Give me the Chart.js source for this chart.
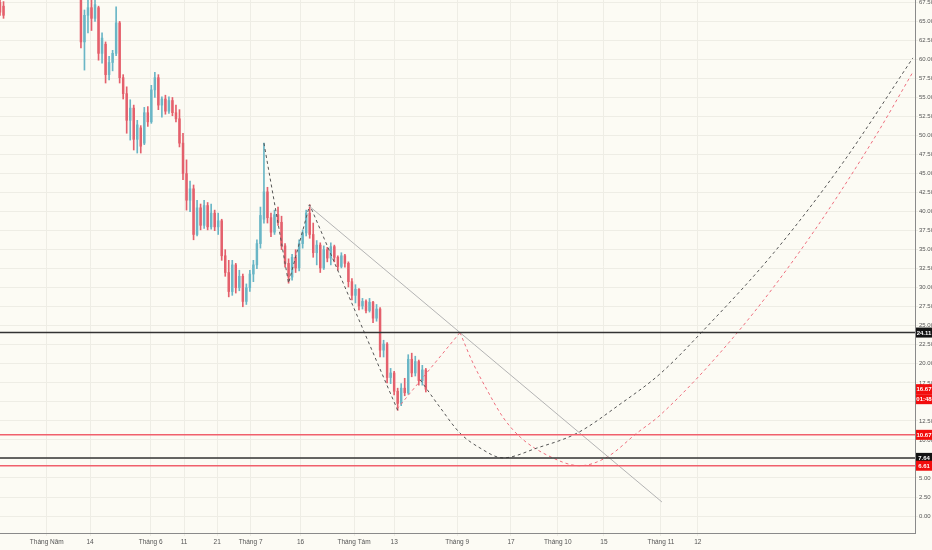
<!DOCTYPE html>
<html>
<head>
<meta charset="utf-8">
<script src="https://cdn.jsdelivr.net/npm/chart.js@4.4.0/dist/chart.umd.min.js"></script>
<style>
body{margin:0;background:#fcfbf4;}
#wrap{width:932px;height:550px;}
</style>
</head>
<body>
<div id="wrap"><canvas id="c"></canvas></div>
<script>
// nến ngày: mở, cao, thấp, đóng (vị trí = số thứ tự phiên)
var opens  = [67.5,67.0,68.6,69.8,71.0,70.6,72.3,73.4,72.9,74.8,74.3,73.1,73.9,75.0,74.5,72.9,71.8,72.6,71.5,70.4,71.1,70.1,69.3,
  68.9,62.3,65.8,66.8,65.4,66.8,60.8,62.0,58.0,59.6,60.8,64.8,57.6,55.5,52.0,53.6,49.5,51.0,49.0,53.0,51.8,56.0,57.6,54.0,54.8,53.2,
  54.6,53.0,52.2,49.0,45.0,41.5,43.0,37.0,40.5,38.2,40.8,38.0,39.8,38.0,38.8,34.2,32.0,29.5,33.0,30.0,31.5,28.2,30.0,31.8,33.0,35.8,
  39.0,42.6,39.2,37.3,39.6,38.6,35.5,33.2,31.4,34.0,32.6,35.8,37.2,39.8,37.0,34.6,35.6,32.6,35.0,33.9,35.4,34.0,32.8,34.2,33.2,30.8,
  29.0,29.8,27.6,28.2,27.0,28.1,26.0,27.2,21.8,22.6,18.2,18.8,16.4,14.8,16.8,16.2,20.6,18.8,20.3,17.8,19.2];
var highs  = [68.6,67.6,70.2,71.5,72.4,72.8,74.0,74.6,75.2,76.0,75.1,74.4,75.6,76.3,75.0,73.8,73.1,73.5,72.2,71.6,71.9,70.8,70.4,
  69.4,66.5,68.2,68.0,68.3,67.0,63.5,62.3,60.4,61.2,66.9,65.0,58.0,56.4,54.7,54.0,52.0,51.3,53.7,53.8,56.6,58.3,58.0,55.1,55.3,55.1,
  55.0,54.0,53.4,50.3,46.8,44.0,43.5,41.5,41.0,41.5,41.2,41.0,40.2,39.8,39.0,35.0,33.6,33.6,33.2,32.3,31.8,30.5,32.3,33.6,36.3,40.6,
  49.0,43.2,39.8,40.2,40.6,39.4,35.8,33.8,34.4,35.0,36.3,37.6,40.2,40.9,38.5,36.2,35.9,35.5,35.3,35.9,35.6,34.2,34.6,34.4,33.4,31.2,
  30.4,29.9,28.6,28.4,28.6,28.2,27.8,27.4,23.1,22.8,19.4,19.0,16.8,17.4,18.1,21.2,21.4,21.0,20.5,19.8,19.4];
var lows   = [65.8,65.4,68.3,69.2,70.1,70.2,71.6,72.5,72.4,73.9,72.8,72.0,73.2,74.1,72.6,71.4,71.0,71.2,70.0,69.6,69.8,68.9,68.5,
  61.5,58.6,63.5,63.8,65.0,59.9,59.5,56.9,57.3,58.5,60.5,56.9,54.8,50.3,49.4,48.1,47.7,47.7,48.8,51.2,51.6,55.0,53.4,52.4,52.8,52.9,
  52.6,51.8,48.5,44.2,40.2,40.0,36.3,36.8,37.6,37.8,37.6,37.7,37.5,37.0,33.6,31.5,28.8,29.0,29.3,29.6,27.5,27.8,29.5,30.8,32.5,35.2,
  38.5,38.5,36.7,37.0,38.2,35.0,32.7,30.6,31.0,32.0,32.2,35.2,36.8,36.5,34.0,33.0,32.0,32.4,33.4,33.0,33.4,32.3,32.6,32.7,30.1,28.4,
  28.0,27.1,27.2,26.7,26.8,25.4,25.6,20.9,20.9,17.5,17.4,15.9,13.9,14.5,15.8,16.0,18.3,18.4,17.2,17.2,16.3];
var closes = [66.2,65.8,69.8,71.0,70.6,72.3,73.4,72.9,74.8,74.3,73.1,73.9,75.0,74.5,72.9,71.8,72.6,71.5,70.4,71.1,70.1,69.3,68.9,
  62.3,65.8,66.8,65.4,67.2,60.8,62.8,58.0,59.6,60.8,64.8,57.6,55.5,52.0,53.6,49.5,51.4,48.6,53.0,51.8,56.0,57.6,54.0,54.8,53.2,54.6,
  53.0,52.2,49.0,45.0,41.5,43.0,37.0,40.5,38.2,40.8,38.0,39.8,38.0,38.8,34.2,32.0,29.5,33.0,30.0,31.5,28.2,30.0,31.8,33.0,35.8,39.5,
  42.6,39.2,37.3,39.6,38.6,35.5,33.2,31.4,34.0,32.6,35.8,37.2,39.8,37.0,34.6,35.6,32.6,35.0,33.9,35.4,34.0,32.8,34.2,33.2,30.8,29.0,
  29.8,27.6,28.2,27.0,28.1,26.0,27.2,21.8,22.6,18.2,18.8,16.4,14.8,16.8,16.2,20.6,18.8,20.3,17.8,19.2,16.67];

// nhãn trục thời gian
var tickSlots  = [13.3,25.6,42.8,52.3,61.7,71.2,85.4,100.6,112.0,129.9,145.2,158.5,171.6,187.8,198.3];
var tickLabels = ['Tháng Năm','14','Tháng 6','11','21','Tháng 7','16','Tháng Tám','13','Tháng 9','17','Tháng 10','15','Tháng 11','12'];

// các mức giá ngang
var levelBlack1 = 24.11, levelBlack2 = 7.64, levelRed1 = 10.67, levelRed2 = 6.61, lastPrice = 16.67;

// đường xu hướng và đường cong dự phóng
var trendX = [87.5,188.1], trendY = [40.87,1.84];
var zigX = [75,82,88,113], zigY = [49.0,30.6,40.9,13.9];
var cupBlackX = [119.4,125.0,130.7,136.4,142.9,152.6,164.0,176.2,187.6,200.9,219.7,238.7,259.4];
var cupBlackY = [17.9,14.3,10.9,8.94,7.64,8.94,10.9,14.7,18.7,24.9,34.5,45.9,60.2];
var redUpX = [112.8,130.7], redUpY = [14.06,24.11];
var cupRedX = [130.7,134.4,138.4,142.9,147.8,155.4,164.8,172.5,181.0,187.6,209.7,229.3,248.1,259.4];
var cupRedY = [24.11,20.1,16.56,13.0,10.38,8.02,6.61,7.75,10.91,13.27,24.2,36.1,49.4,58.34];

var upColor = '#6ab6c6', downColor = '#e4606c';

function pts(xs, ys) { return xs.map(function (x, i) { return {x: x, y: ys[i]}; }); }
function candleColor(ctx) { var i = ctx.dataIndex; return closes[i] >= opens[i] ? upColor : downColor; }
function level(v) { return [{x: 0, y: v}, {x: 260, y: v}]; }

var wicks = opens.map(function (o, i) { return {x: i, y: [lows[i], highs[i]]}; });
var bodies = opens.map(function (o, i) { return {x: i, y: [o, closes[i]]}; });

var boxPlugin = {
  id: 'boxes',
  beforeDraw: function (chart) {
    var c = chart.ctx;
    c.save(); c.fillStyle = '#fcfbf4'; c.fillRect(0, 0, chart.width, chart.height); c.restore();
  },
  afterDraw: function (chart) {
    var c = chart.ctx, ys = chart.scales.y, x0 = chart.chartArea.right + 1;
    var boxes = [
      [levelBlack1, levelBlack1.toFixed(2), '#131313', 0],
      [lastPrice, lastPrice.toFixed(2), '#f20d0d', 0],
      [lastPrice, '01:48', '#f20d0d', 10],
      [levelRed1, levelRed1.toFixed(2), '#f20d0d', 0],
      [levelBlack2, levelBlack2.toFixed(2), '#131313', 0],
      [levelRed2, levelRed2.toFixed(2), '#f20d0d', 0]
    ];
    c.save();
    c.font = 'bold 6px "Liberation Sans Narrow", "Liberation Sans", sans-serif';
    c.textAlign = 'center'; c.textBaseline = 'middle';
    boxes.forEach(function (b) {
      var y = ys.getPixelForValue(b[0]) + b[3];
      c.fillStyle = b[2]; c.fillRect(x0, y - 5, 16, 10);
      c.fillStyle = '#ffffff'; c.fillText(b[1], x0 + 8, y + 0.5);
    });
    c.restore();
  }
};

var dashed = {borderWidth: 1, borderDash: [3, 3], pointRadius: 0, order: 1};

new Chart(document.getElementById('c'), {
  type: 'bar',
  data: {
    datasets: [
      {type: 'line', data: level(levelBlack1), borderColor: '#333333', borderWidth: 1.5, pointRadius: 0, order: 1},
      {type: 'line', data: level(levelBlack2), borderColor: '#333333', borderWidth: 1.5, pointRadius: 0, order: 1},
      {type: 'line', data: level(levelRed1), borderColor: '#f0606c', borderWidth: 1.5, pointRadius: 0, order: 1},
      {type: 'line', data: level(levelRed2), borderColor: '#f0606c', borderWidth: 1.5, pointRadius: 0, order: 1},
      {type: 'line', data: pts(trendX, trendY), borderColor: '#b4b4b4', borderWidth: 1, pointRadius: 0, order: 1},
      Object.assign({type: 'line', data: pts(zigX, zigY), borderColor: '#555555'}, dashed),
      Object.assign({type: 'line', data: pts(cupBlackX, cupBlackY), borderColor: '#555555', cubicInterpolationMode: 'monotone'}, dashed),
      Object.assign({type: 'line', data: pts(redUpX, redUpY), borderColor: '#ef6f7e'}, dashed),
      Object.assign({type: 'line', data: pts(cupRedX, cupRedY), borderColor: '#ef6f7e', cubicInterpolationMode: 'monotone'}, dashed),
      {data: wicks, backgroundColor: candleColor, barThickness: 1, grouped: false, order: 10},
      {data: bodies, backgroundColor: candleColor, barThickness: 1.8, minBarLength: 1, grouped: false, order: 9}
    ]
  },
  options: {
    responsive: true,
    maintainAspectRatio: false,
    animation: false,
    layout: {padding: 0},
    plugins: {legend: {display: false}, tooltip: {enabled: false}},
    scales: {
      x: {
        type: 'linear', position: 'bottom', min: 0, max: 260, offset: false,
        grid: {color: '#eeede5', tickLength: 3, offset: false},
        border: {display: true, color: '#8a8a8a'},
        afterBuildTicks: function (s) { s.ticks = tickSlots.map(function (v) { return {value: v}; }); },
        afterFit: function (s) { s.height = 17; s.paddingLeft = 0; s.paddingRight = 0; },
        ticks: {
          autoSkip: false, maxRotation: 0, padding: 2, color: '#555555',
          font: {size: 6.5, family: '"Liberation Sans Narrow", "Liberation Sans", sans-serif'},
          callback: function (v, i) { return tickLabels[i]; }
        }
      },
      y: {
        type: 'linear', position: 'right', min: -2.23, max: 67.81,
        grid: {color: '#eeede5', tickLength: 3},
        border: {display: true, color: '#8a8a8a'},
        afterBuildTicks: function (s) {
          var t = [];
          for (var v = 0; v <= 67.5; v += 2.5) t.push({value: v});
          s.ticks = t;
        },
        afterFit: function (s) { s.width = 17; s.paddingTop = 0; s.paddingBottom = 0; },
        ticks: {
          padding: 1, color: '#555555',
          font: {size: 6, family: '"Liberation Sans Narrow", "Liberation Sans", sans-serif'},
          callback: function (v) { return Number(v).toFixed(2); }
        }
      }
    }
  },
  plugins: [boxPlugin]
});
</script>
</body>
</html>
